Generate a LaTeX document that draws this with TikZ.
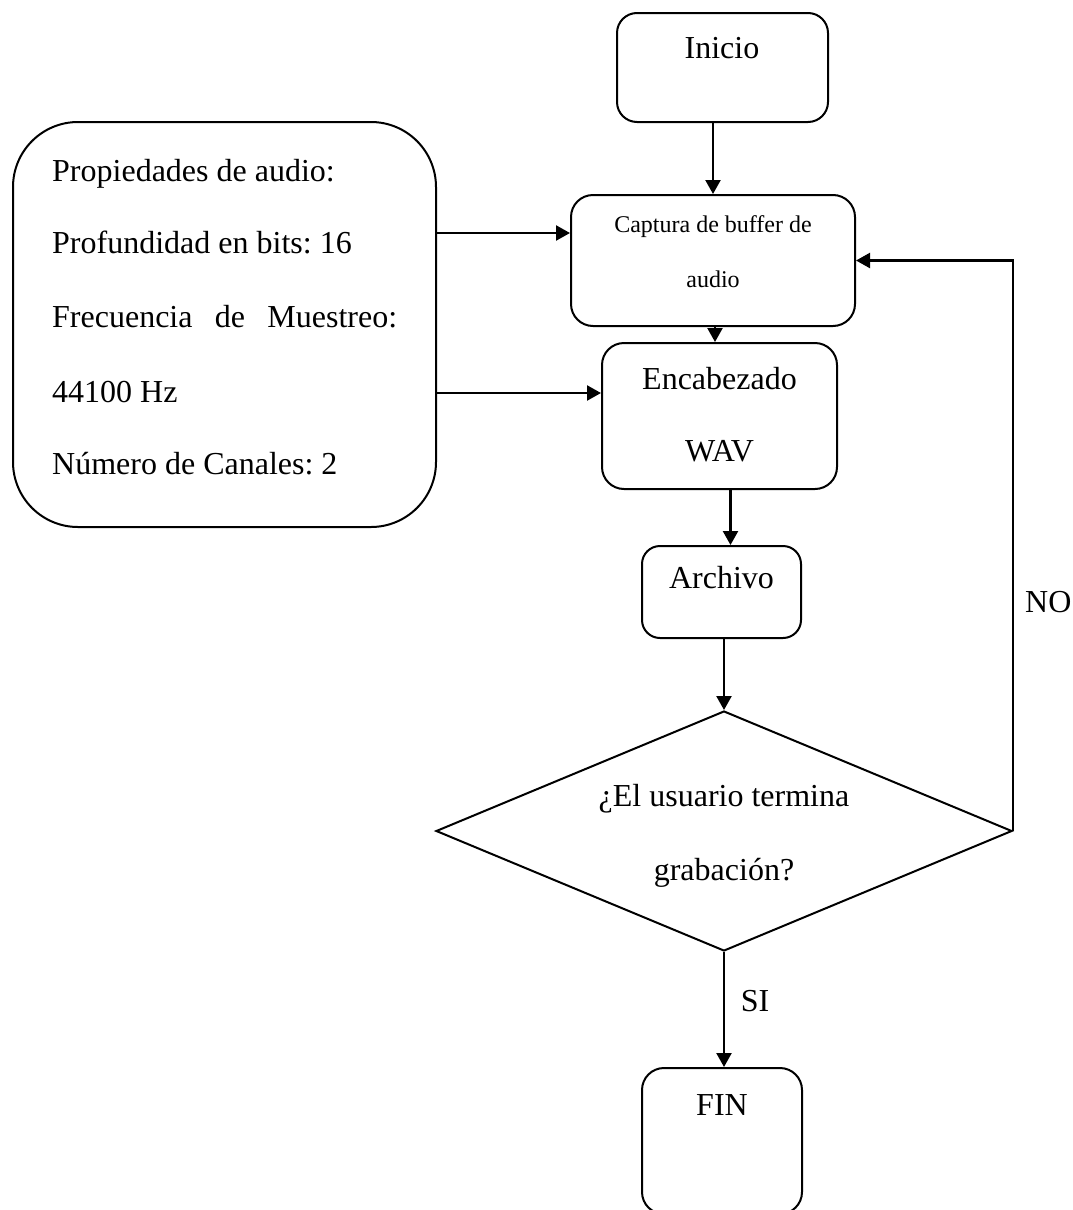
\documentclass[tikz,border=0pt]{standalone}
\usepackage{fontspec}
\setmainfont{Liberation Serif}
\usetikzlibrary{arrows.meta,shapes.geometric,calc}
\begin{document}
\frenchspacing
\begin{tikzpicture}[x=1pt,y=-1pt,
  box/.style={draw,line width=2pt,rounded corners=#1,inner sep=0pt},
  box/.default=20pt,
  dec/.style={draw,diamond,line width=2pt,inner sep=0pt,shape aspect=2.4,minimum width=576pt,minimum height=240pt},
  arr/.style={line width=2.3pt,-{Triangle[length=14pt,width=15pt]}},
  lbl/.style={font=\fontsize{32}{36}\selectfont,inner sep=0pt},
  small/.style={font=\fontsize{24}{28}\selectfont,inner sep=0pt}
]
\path[use as bounding box,clip] (0,0) rectangle (1073,1210);
\fill[white] (0,0) rectangle (1073,1210);

% boxes
\node[box,minimum width=211pt,minimum height=109pt] (inicio) at (722.5,67.5) {};
\node[box=65pt,minimum width=423pt,minimum height=405pt] (props) at (224.5,324.5) {};
\node[box=22pt,minimum width=284pt,minimum height=131pt] (captura) at (713,260.5) {};
\node[box=22pt,minimum width=235pt,minimum height=146pt] (encab) at (719.5,416) {};
\node[box=18pt,minimum width=159pt,minimum height=92pt] (archivo) at (721.5,592) {};
\node[dec] (decision) at (724,831) {};
\node[box=22pt,minimum width=160pt,minimum height=146pt] (fin) at (722,1141) {};

% texts
\node[lbl,anchor=base] (tinicio) at (722,58) {Inicio};
\node[lbl,anchor=base west] (tp1) at (52,181) {Propiedades de audio:};
\node[lbl,anchor=base west] (tp2) at (52,253) {Profundidad en bits: 16};
\node[lbl,anchor=base west] (tp3) at (52,327) {\makebox[345pt][s]{Frecuencia\hfill de\hfill Muestreo:}};
\node[lbl,anchor=base west] (tp4) at (52,402) {44100 Hz};
\node[lbl,anchor=base west] (tp5) at (52,474) {Número de Canales: 2};
\node[small,anchor=base] (tc1) at (713,232) {Captura de buffer de};
\node[small,anchor=base] (tc2) at (713,287) {audio};
\node[lbl,anchor=base] (te1) at (719.5,389) {Encabezado};
\node[lbl,anchor=base] (te2) at (719.5,461) {WAV};
\node[lbl,anchor=base] (ta) at (721.5,588) {Archivo};
\node[lbl,anchor=base] (td1) at (724,806) {¿El usuario termina};
\node[lbl,anchor=base] (td2) at (724,880) {grabación?};
\node[lbl,anchor=base] (tf) at (722,1115) {FIN};
\node[lbl,anchor=base west] (tno) at (1025,612) {NO};
\node[lbl,anchor=base] (tsi) at (755,1011) {SI};

% connectors
\coordinate (p1) at (571,233);
\coordinate (p2) at (602,393);
\draw[arr] (inicio.south -| captura.north) -- (captura.north);
\draw[arr] (p1 -| props.east) -- (p1 -| captura.west);
\draw[arr] (p2 -| props.east) -- (p2 -| encab.west);
\draw[arr] ([xshift=2pt]captura.south) -- ([xshift=2pt]captura.south |- encab.north);
\draw[arr] ([xshift=11pt]encab.south) -- ([xshift=11pt]encab.south |- archivo.north);
\draw[arr] (archivo.south -| decision.north) -- (decision.north);
\draw[arr] (decision.east) -- (decision.east |- captura.east) -- (captura.east);
\draw[arr] (decision.south) -- (decision.south |- fin.north);
\end{tikzpicture}
\end{document}
